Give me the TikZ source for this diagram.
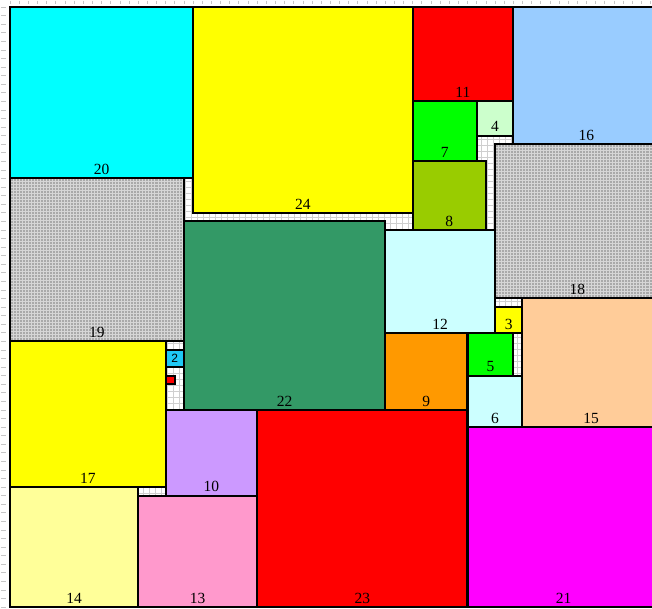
\documentclass[tikz,border=0pt]{standalone}
\usepackage{fontspec}
\setmainfont{Liberation Serif}
\newfontfamily\labsans{Liberation Sans}
\definecolor{cCyan}{HTML}{00FFFF}
\definecolor{cYellow}{HTML}{FFFF00}
\definecolor{cRed}{HTML}{FF0000}
\definecolor{cSky}{HTML}{99CCFF}
\definecolor{cGreen}{HTML}{00FF00}
\definecolor{cMint}{HTML}{CCFFCC}
\definecolor{cOlive}{HTML}{99CC00}
\definecolor{cIce}{HTML}{CCFFFF}
\definecolor{cSea}{HTML}{339966}
\definecolor{cBlue}{HTML}{1FC8F5}
\definecolor{cLilac}{HTML}{CC99FF}
\definecolor{cCream}{HTML}{FFFF99}
\definecolor{cPink}{HTML}{FF99CC}
\definecolor{cOrange}{HTML}{FF9900}
\definecolor{cPeach}{HTML}{FFCC99}
\definecolor{cMagenta}{HTML}{FF00FF}
\definecolor{cGrayFill}{HTML}{A9A9A9}
\definecolor{cGrayLine}{HTML}{D6D6D6}
\definecolor{cBgGrid}{HTML}{CFCFCF}
\begin{document}
\begin{tikzpicture}[x=9.15pt,y=-8.5714pt,
  sq/.style={draw=black,line width=2.1pt},
  lab/.style={anchor=base,inner sep=0pt,font=\fontsize{15.5}{16}\selectfont,yshift=3.6pt},
  bggrid/.style={draw=cBgGrid,line width=0.6pt},
  tick/.style={draw=gray!45,line width=0.6pt},
  patline/.style={draw=cGrayLine,line width=0.9pt}]
\useasboundingbox (-1.0929,-0.8167) rectangle (70.164,70.117);
\begin{scope}
\clip (-1.0929,-0.8167) rectangle (70.164,70.117);
\fill[white] (-1.0929,-0.8167) rectangle (70.164,70.117);
% background grid inside the packing area
\foreach \i in {0,0.66,...,71} \draw[bggrid] (\i,0) -- (\i,70);
\foreach \j in {0,0.7,...,70} \draw[bggrid] (0,\j) -- (71,\j);
% margin ticks
\foreach \i in {0,...,70} \draw[tick] (\i,-0.75) -- (\i,-0.3);
\foreach \j in {0,...,70} \draw[tick] (-0.95,\j) -- (-0.45,\j);
% patterned gray squares
\foreach \n/\x/\y/\s in {18/53/16/18,19/0/20/19}{
  \fill[cGrayFill] (\x,\y) rectangle ++(\s,\s);
  \begin{scope}
    \clip (\x,\y) rectangle ++(\s,\s);
    \foreach \k in {0,0.33,...,19} \draw[patline] (\x+\k,\y) -- (\x+\k,\y+\s);
    \foreach \k in {0,0.35,...,19} \draw[patline] (\x,\y+\k) -- (\x+\s,\y+\k);
  \end{scope}
  \draw[sq] (\x,\y) rectangle ++(\s,\s);
  \node[lab] (s\n) at (\x+\s/2,\y+\s) {\n};
}
% coloured squares
\foreach \n/\x/\y/\s/\c in {
  20/0/0/20/cCyan, 24/20/0/24/cYellow, 11/44/0/11/cRed, 16/55/0/16/cSky,
  7/44/11/7/cGreen, 4/51/11/4/cMint, 8/44/18/8/cOlive,
  22/19/25/22/cSea, 12/41/26/12/cIce, 3/53/35/3/cYellow, 15/56/34/15/cPeach,
  9/41/38/9/cOrange, 5/50/38/5/cGreen, 17/0/39/17/cYellow, 6/50/43/6/cIce,
  10/17/47/10/cLilac, 23/27/47/23/cRed, 21/50/49/21/cMagenta,
  14/0/56/14/cCream, 13/14/57/13/cPink}{
  \draw[sq,fill=\c] (\x,\y) rectangle ++(\s,\s);
  \node[lab] (s\n) at (\x+\s/2,\y+\s) {\n};
}
% small squares 2 and 1
\draw[sq,fill=cBlue] (17,40) rectangle ++(2,2);
\node[inner sep=0pt,font=\labsans\fontsize{12}{12}\selectfont] (s2) at (18,41) {2};
\draw[sq,fill=cRed] (17,43) rectangle ++(1,1);
\end{scope}
\end{tikzpicture}
\end{document}
